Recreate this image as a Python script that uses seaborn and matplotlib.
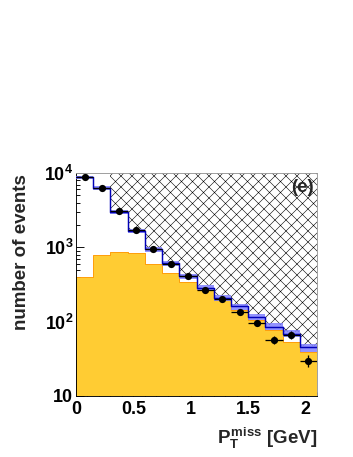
import numpy as np
import pandas as pd
import seaborn as sns
import matplotlib.pyplot as plt
from matplotlib.ticker import FixedLocator, FixedFormatter, MultipleLocator, NullFormatter

# bin edges in P_T^miss [GeV]
bin_edges = [0.0, 0.15, 0.3, 0.45, 0.6, 0.75, 0.9, 1.05, 1.2, 1.35, 1.5, 1.65, 1.8, 1.95, 2.1]

# data points
data_counts = [8800, 6270, 3060, 1700, 940, 590, 410, 270, 200, 137, 97, 57, 66, 30]

# total simulation (blue line) and its relative uncertainty band
mc_total = [8800, 6270, 2970, 1645, 940, 608, 410, 288, 211, 160, 117, 86, 69, 45]
mc_rel_err = [0.05, 0.05, 0.06, 0.06, 0.07, 0.07, 0.08, 0.08, 0.09, 0.09, 0.10, 0.10, 0.11, 0.12]

# background component (orange filled)
bkg_counts = [405, 780, 855, 830, 590, 445, 337, 263, 200, 145, 106, 78, 54, 39]

# hatched (excluded) region starts here
hatch_start = 0.3

DPI = 66
plt.rcParams["hatch.linewidth"] = 0.6
plt.rcParams["mathtext.fontset"] = "custom"
plt.rcParams["mathtext.rm"] = "Liberation Sans:bold"
plt.rcParams["mathtext.bf"] = "Liberation Sans:bold"
plt.rcParams["mathtext.it"] = "Liberation Sans:bold"
sns.set_style("ticks")
plt.rcParams["font.family"] = ["Liberation Sans", "DejaVu Sans"]

fig = plt.figure(figsize=(353 / DPI, 457 / DPI), dpi=DPI)
ax = fig.add_axes([76 / 353, 1 - 396 / 457, (317 - 76) / 353, (396 - 173) / 457])
ax.set_yscale("log")

edges = np.array(bin_edges)
centers = 0.5 * (edges[:-1] + edges[1:])
df = pd.DataFrame({"pt": centers, "data": data_counts, "mc": mc_total, "bkg": bkg_counts})

# orange background component
sns.histplot(data=df, x="pt", weights="bkg", bins=bin_edges, element="step",
             fill=True, color="#FFCC33", alpha=1.0, edgecolor="#FF9900",
             linewidth=1.0, ax=ax, zorder=1)

# hatched region above the simulation
mc_step = np.append(np.array(mc_total, float), mc_total[-1])
mask = edges >= hatch_start - 1e-9
ax.fill_between(edges[mask], mc_step[mask] * 1.05, 1.2e4, step="post",
                facecolor="none", edgecolor="black", hatch="xx", linewidth=0, zorder=2)

# uncertainty band of the simulation
rel = np.append(np.array(mc_rel_err), mc_rel_err[-1])
ax.fill_between(edges, mc_step * (1 - rel), mc_step * (1 + rel), step="post",
                color="#8080FF", alpha=0.85, linewidth=0, zorder=3)

# total simulation line
sns.histplot(data=df, x="pt", weights="mc", bins=bin_edges, element="step",
             fill=False, color="#0000B8", linewidth=1.6, ax=ax, zorder=4)

# data points
ax.errorbar(df["pt"], df["data"], xerr=0.075, yerr=np.sqrt(df["data"]),
            fmt="none", ecolor="black", elinewidth=1.4, capsize=0, zorder=5)
sns.scatterplot(data=df, x="pt", y="data", color="black", s=62, edgecolor="black",
                linewidth=0, ax=ax, zorder=6)

ax.set_xlim(0, 2.1)
ax.set_ylim(10, 1.0e4)

# axis ticks in ROOT style
ax.xaxis.set_major_locator(FixedLocator([0, 0.5, 1, 1.5, 2]))
ax.xaxis.set_major_formatter(FixedFormatter(["0", "0.5", "1", "1.5", "2"]))
ax.xaxis.set_minor_locator(MultipleLocator(0.1))
ax.yaxis.set_major_locator(FixedLocator([10, 100, 1000, 10000]))
ax.yaxis.set_major_formatter(FixedFormatter([r"$10$", r"$10^{2}$", r"$10^{3}$", r"$10^{4}$"]))
ax.yaxis.set_minor_locator(FixedLocator([m * 10 ** d for d in range(1, 4) for m in range(2, 10)]))
ax.yaxis.set_minor_formatter(NullFormatter())
ax.tick_params(which="both", direction="in", top=False, right=False, width=1.0, colors="black")
ax.tick_params(which="major", length=9, labelsize=19.5)
ax.tick_params(which="minor", length=4.5)
ax.tick_params(axis="x", pad=5)
ax.tick_params(axis="y", pad=3)
for lab in ax.get_xticklabels() + ax.get_yticklabels():
    lab.set_fontweight("bold")

for side in ["left", "bottom"]:
    ax.spines[side].set_color("black")
    ax.spines[side].set_linewidth(1.0)
for side in ["top", "right"]:
    ax.spines[side].set_visible(True)
    ax.spines[side].set_color("#999999")
    ax.spines[side].set_linewidth(1.0)

ax.set_xlabel("")
ax.set_ylabel("")
fig.text(22 / 353, 1 - 252 / 457, "number of events", rotation=90, ha="center",
         va="center", fontsize=20.5, fontweight="bold")
fig.text(317 / 353, 1 - 438 / 457, r"$P_{T}^{miss}$ [GeV]", ha="right", va="center",
         fontsize=20.5, fontweight="bold")
ax.text(0.985, 0.935, "(e)", transform=ax.transAxes, ha="right", va="center",
        fontsize=20.5, fontweight="bold", zorder=7)

fig.savefig("out.png", dpi=DPI, facecolor="white")
